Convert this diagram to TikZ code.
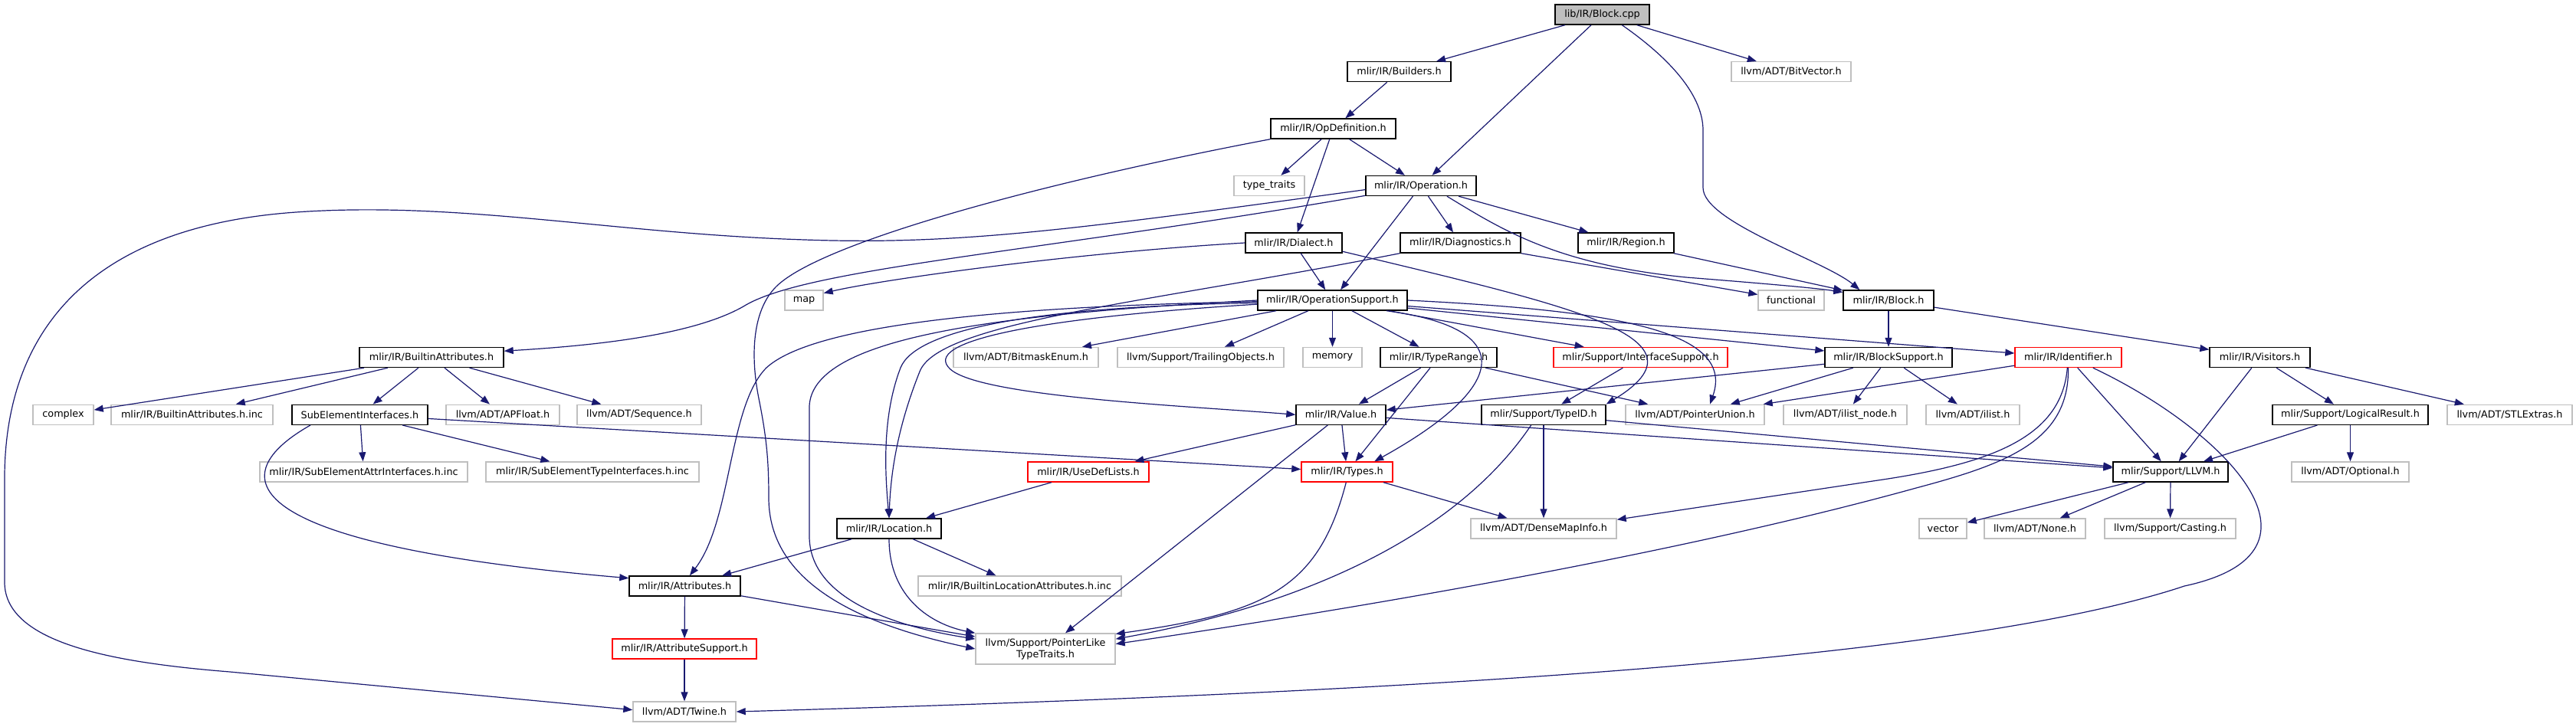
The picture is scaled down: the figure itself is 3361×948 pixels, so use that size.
\documentclass[tikz,border=0pt]{standalone}
\usepackage{fontspec}
\newfontfamily\nodefont{DejaVu Sans}
\usetikzlibrary{arrows.meta}
\definecolor{edgeblue}{HTML}{191970}
\definecolor{extgray}{HTML}{BFBFBF}
\definecolor{rootgray}{HTML}{BFBFBF}
\definecolor{truncred}{HTML}{FF0000}
\begin{document}
\begin{tikzpicture}[x=1pt,y=-1pt,
 base/.style={rectangle, minimum height=26pt, inner sep=0pt, line width=1.4pt, font=\nodefont\fontsize{12.8pt}{15pt}\selectfont, text=black, fill=white},
 int/.style={base, draw=black},
 ext/.style={base, draw=extgray},
 trunc/.style={base, draw=truncred},
 root/.style={base, draw=black, fill=rootgray},
 e/.style={draw=edgeblue, line width=1.2pt, -{Triangle[length=12pt,width=9pt]}},
]
\fill[white] (0,0) rectangle (3361,948);
\useasboundingbox (0,0) rectangle (3361,948);

% nodes
\node[root, minimum width=123pt] (blockcpp) at (2090.5,19) {lib/IR/Block.cpp};
\node[int, minimum width=135pt] (builders) at (1825.5,93.7) {mlir/IR/Builders.h};
\node[ext, minimum width=156pt] (bitvector) at (2337,93.7) {llvm/ADT/BitVector.h};
\node[int, minimum width=163pt] (opdef) at (1739.5,168) {mlir/IR/OpDefinition.h};
\node[ext, minimum width=92pt] (typetraits) at (1656,242.5) {type\_traits};
\node[int, minimum width=144pt] (operation) at (1854,242.5) {mlir/IR/Operation.h};
\node[int, minimum width=126pt] (dialect) at (1688,317) {mlir/IR/Dialect.h};
\node[int, minimum width=157pt] (diagnostics) at (1905.5,317) {mlir/IR/Diagnostics.h};
\node[int, minimum width=125pt] (region) at (2121.5,317) {mlir/IR/Region.h};
\node[ext, minimum width=50pt] (map) at (1049,392) {map};
\node[int, minimum width=195pt] (opsupport) at (1738.5,392) {mlir/IR/OperationSupport.h};
\node[ext, minimum width=86pt] (functional) at (2337,392) {functional};
\node[int, minimum width=118pt] (blockh) at (2464,392) {mlir/IR/Block.h};

\node[int, minimum width=188pt] (builtinattr) at (563,466.5) {mlir/IR/BuiltinAttributes.h};
\node[ext, minimum width=189pt] (bitmask) at (1338.5,466.5) {llvm/ADT/BitmaskEnum.h};
\node[ext, minimum width=217pt] (trailing) at (1566.5,466.5) {llvm/Support/TrailingObjects.h};
\node[ext, minimum width=77pt] (memory) at (1738.5,466.5) {memory};
\node[int, minimum width=152pt] (typerange) at (1877,466.5) {mlir/IR/TypeRange.h};
\node[trunc, minimum width=227pt] (interface) at (2140.5,466.5) {mlir/Support/InterfaceSupport.h};
\node[int, minimum width=166pt] (blocksupport) at (2464,466.5) {mlir/IR/BlockSupport.h};
\node[trunc, minimum width=139pt] (identifier) at (2698.5,466.5) {mlir/IR/Identifier.h};
\node[int, minimum width=131pt] (visitors) at (2948.5,466.5) {mlir/IR/Visitors.h};

\node[ext, minimum width=79pt] (complex) at (82.5,541.3) {complex};
\node[ext, minimum width=211pt] (battrinc) at (250.5,541.3) {mlir/IR/BuiltinAttributes.h.inc};
\node[int, minimum width=177pt] (subelem) at (469.5,541.3) {SubElementInterfaces.h};
\node[ext, minimum width=148pt] (apfloat) at (656,541.3) {llvm/ADT/APFloat.h};
\node[ext, minimum width=162pt] (sequence) at (834,541.3) {llvm/ADT/Sequence.h};
\node[int, minimum width=117pt] (value) at (1749.5,541.3) {mlir/IR/Value.h};
\node[int, minimum width=162pt] (typeid) at (2014,541.3) {mlir/Support/TypeID.h};
\node[ext, minimum width=181pt] (ptrunion) at (2211.5,541.3) {llvm/ADT/PointerUnion.h};
\node[ext, minimum width=161pt] (ilistnode) at (2407.5,541.3) {llvm/ADT/ilist\_node.h};
\node[ext, minimum width=122pt] (ilist) at (2574,541.3) {llvm/ADT/ilist.h};
\node[int, minimum width=203pt] (logical) at (3066.5,541.3) {mlir/Support/LogicalResult.h};
\node[ext, minimum width=163pt] (stlextras) at (3274.5,541.3) {llvm/ADT/STLExtras.h};

\node[ext, minimum width=271pt] (seattrinc) at (474.5,616) {mlir/IR/SubElementAttrInterfaces.h.inc};
\node[ext, minimum width=278pt] (setypeinc) at (773,616) {mlir/IR/SubElementTypeInterfaces.h.inc};
\node[trunc, minimum width=158pt] (usedef) at (1420,616) {mlir/IR/UseDefLists.h};
\node[trunc, minimum width=119pt] (types) at (1757.5,616) {mlir/IR/Types.h};
\node[int, minimum width=150pt] (llvmh) at (2832,616) {mlir/Support/LLVM.h};
\node[ext, minimum width=153pt] (optional) at (3066.5,616) {llvm/ADT/Optional.h};

\node[int, minimum width=136pt] (location) at (1160,690) {mlir/IR/Location.h};
\node[ext, minimum width=190pt] (densemap) at (2014,690) {llvm/ADT/DenseMapInfo.h};
\node[ext, minimum width=62pt] (vector) at (2535,690) {vector};
\node[ext, minimum width=132pt] (none) at (2655,690) {llvm/ADT/None.h};
\node[ext, minimum width=171pt] (casting) at (2831.5,690) {llvm/Support/Casting.h};

\node[int, minimum width=145pt] (attributes) at (893.5,765) {mlir/IR/Attributes.h};
\node[ext, minimum width=265pt] (builtinloc) at (1330.5,765) {mlir/IR/BuiltinLocationAttributes.h.inc};
\node[trunc, minimum width=188pt] (attrsupport) at (893,847) {mlir/IR/AttributeSupport.h};
\node[ext, minimum width=182pt, minimum height=40pt, align=center] (pointerlike) at (1364,847) {llvm/Support/PointerLike\\TypeTraits.h};
\node[ext, minimum width=134pt] (twine) at (893,929) {llvm/ADT/Twine.h};

% edges
\draw[e] (blockcpp) -- (builders);
\draw[e] (blockcpp) -- (operation);
\draw[e] (blockcpp) -- (bitvector);
\draw[e] (blockcpp.-28) .. controls (2170,70) and (2222,120) .. (2222,170) -- (2222,245) .. controls (2222,290) and (2380,340) .. (blockh.160);

\draw[e] (builders) -- (opdef);
\draw[e] (opdef) -- (typetraits);
\draw[e] (opdef) -- (operation);
\draw[e] (opdef) -- (dialect);
\draw[e] (opdef.south west) .. controls (1350,240) and (1060,320) .. (1010,377) .. controls (980,410) and (980,470) .. (990,520) .. controls (1000,570) and (1003,600) .. (1003,650) .. controls (1003,760) and (1120,815) .. (pointerlike.180);

\draw[e] (operation.184) .. controls (1400,300) and (1250,320) .. (1050,313) .. controls (800,305) and (600,262) .. (386,277) .. controls (130,295) and (8,420) .. (6,620) -- (6,760) .. controls (6,840) and (150,865) .. (300,877) -- (twine.178);
\draw[e] (operation.190) .. controls (1350,330) and (1050,350) .. (970,400) .. controls (900,440) and (760,452) .. (builtinattr.5);
\draw[e] (operation) -- (opsupport);
\draw[e] (operation) -- (diagnostics);
\draw[e] (operation) -- (region);
\draw[e] (operation.-22) .. controls (1960,300) and (2030,345) .. (2200,362) .. controls (2300,370) and (2370,376) .. (blockh.170);

\draw[e] (region) -- (blockh);
\draw[e] (diagnostics) -- (functional);
\draw[e] (diagnostics.south west) .. controls (1500,395) and (1225,420) .. (1200,485) .. controls (1170,560) and (1162,620) .. (location.north);

\draw[e] (dialect.west) .. controls (1400,330) and (1150,365) .. (map.20);
\draw[e] (dialect) -- (opsupport);
\draw[e] (dialect.-10) .. controls (2050,400) and (2240,440) .. (typeid.north east);

\draw[e] (opsupport) -- (bitmask);
\draw[e] (opsupport) -- (trailing);
\draw[e] (opsupport) -- (memory);
\draw[e] (opsupport) -- (typerange);
\draw[e] (opsupport) -- (interface);
\draw[e] (opsupport) -- (blocksupport);
\draw[e] (opsupport) -- (identifier);
\draw[e] (opsupport.east) .. controls (2100,405) and (2265,430) .. (ptrunion.35);
\draw[e] (opsupport.-11) .. controls (1990,430) and (1960,510) .. (types.21);
\draw[e] (opsupport.183) .. controls (1350,415) and (1200,446) .. (1240,482) .. controls (1280,518) and (1550,530) .. (value.west);
\draw[e] (opsupport.182) .. controls (1350,400) and (1195,430) .. (1175,480) .. controls (1150,545) and (1155,620) .. (location.north);
\draw[e] (opsupport.181) .. controls (1300,400) and (1060,425) .. (1000,480) .. controls (950,530) and (955,680) .. (attributes.65);
\draw[e] (opsupport.180) .. controls (1300,410) and (1060,440) .. (1056,530) -- (1056,700) .. controls (1056,775) and (1150,815) .. (pointerlike.172);

\draw[e] (typerange) -- (value);
\draw[e] (typerange) -- (types);
\draw[e] (typerange) -- (ptrunion);
\draw[e] (interface) -- (typeid);

\draw[e] (blockh) -- (blocksupport);
\draw[e] (blockh) -- (visitors);
\draw[e] (blocksupport) -- (value);
\draw[e] (blocksupport) -- (ptrunion);
\draw[e] (blocksupport) -- (ilistnode);
\draw[e] (blocksupport) -- (ilist);

\draw[e] (identifier) -- (ptrunion);
\draw[e] (identifier) -- (llvmh);
\draw[e] (identifier.-95) .. controls (2690,570) and (2600,605) .. (2450,627) -- (densemap.7);
\draw[e] (identifier.-90) .. controls (2700,575) and (2620,605) .. (2500,637) .. controls (2200,720) and (1800,790) .. (pointerlike.4);
\draw[e] (identifier.-23) .. controls (2900,560) and (3060,720) .. (2850,765) .. controls (2550,865) and (1800,905) .. (twine.east);

\draw[e] (visitors) -- (llvmh);
\draw[e] (visitors) -- (logical);
\draw[e] (visitors) -- (stlextras);
\draw[e] (logical) -- (llvmh);
\draw[e] (logical) -- (optional);
\draw[e] (llvmh) -- (vector);
\draw[e] (llvmh) -- (none);
\draw[e] (llvmh) -- (casting);

\draw[e] (value) -- (usedef);
\draw[e] (value) -- (types);
\draw[e] (value) -- (pointerlike);
\draw[e] (value) -- (llvmh);

\draw[e] (typeid) -- (densemap);
\draw[e] (typeid) -- (llvmh);
\draw[e] (typeid.-140) .. controls (1900,700) and (1700,790) .. (pointerlike.8);

\draw[e] (types) -- (densemap);
\draw[e] (types.-95) .. controls (1720,770) and (1650,800) .. (pointerlike.12);

\draw[e] (usedef) -- (location);
\draw[e] (location) -- (attributes);
\draw[e] (location) -- (builtinloc);
\draw[e] (location.south) .. controls (1160,780) and (1215,815) .. (pointerlike.north west);

\draw[e] (builtinattr) -- (complex);
\draw[e] (builtinattr) -- (battrinc);
\draw[e] (builtinattr) -- (subelem);
\draw[e] (builtinattr) -- (apfloat);
\draw[e] (builtinattr) -- (sequence);

\draw[e] (subelem) -- (seattrinc);
\draw[e] (subelem) -- (setypeinc);
\draw[e] (subelem.-168) .. controls (290,620) and (300,710) .. (attributes.172);
\draw[e] (subelem) -- (types);

\draw[e] (attributes) -- (attrsupport);
\draw[e] (attributes) -- (pointerlike);
\draw[e] (attrsupport) -- (twine);
\end{tikzpicture}
\end{document}
